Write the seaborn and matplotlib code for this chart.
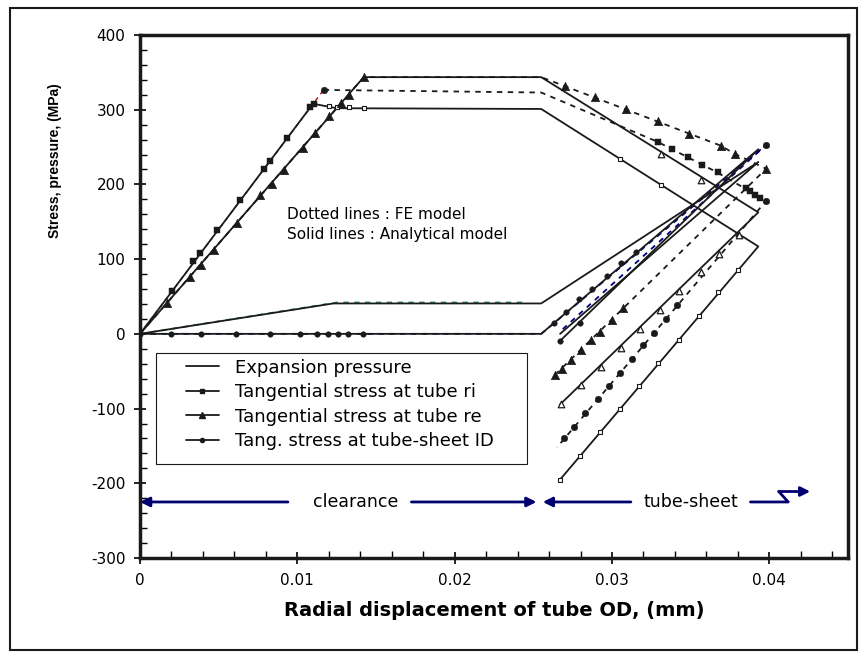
import numpy as np
import matplotlib.pyplot as plt
import seaborn as sns
from matplotlib.patches import Rectangle
from matplotlib.lines import Line2D
from matplotlib.ticker import MultipleLocator, FuncFormatter

sns.set_theme(style='white')
plt.rcParams['font.family'] = ['DejaVu Sans']
plt.rcParams['axes.unicode_minus'] = False
for k in ['text.color', 'axes.labelcolor', 'xtick.color', 'ytick.color']:
    plt.rcParams[k] = 'black'

# ---------------- analytical model (solid lines) ----------------
pres_x = [0, 0.01228, 0.0255, 0.0393, 0.0267]
pres_y = [0, 40.7, 40.7, 230, 0]

ri_x = [0, 0.0110, 0.0125, 0.0255, 0.0393, 0.0267]
ri_y = [0, 308, 302, 301, 117, -195]

re_x = [0, 0.01422, 0.0255, 0.0393, 0.0267]
re_y = [0, 343.6, 343.6, 162.6, -94.5]

id_x = [0, 0.0255, 0.0393, 0.0267]
id_y = [0, 0, 247, -9.4]

# ---------------- FE model (dotted lines) ----------------
fe_pres_x = [0, 0.0125, 0.0244]
fe_pres_y = [0, 42, 42]

fe_ri_load_x = [0, 0.01167]
fe_ri_load_y = [0, 326.5]
fe_ri_x = [0.01167, 0.0255, 0.0329, 0.0367, 0.0398, 0.0265]
fe_ri_y = [326.5, 323, 257, 216, 178, -152]

fe_re_x = [0, 0.01422, 0.0255, 0.0369, 0.0378, 0.0398, 0.02637]
fe_re_y = [0, 343.6, 343.6, 252, 241, 221, -55]

fe_id_x = [0, 0.0255, 0.0398, 0.0268]
fe_id_y = [0, 0, 253, 5]

# ---------------- marker positions ----------------
ri_load_mx = [0.00202, 0.00339, 0.00382, 0.00492, 0.00637, 0.00791, 0.00828, 0.00934, 0.01082, 0.01103]
ri_load_my = [57.8, 98.1, 107.9, 139.3, 179.6, 221.3, 231.1, 261.6, 303.2, 307.7]
ri_open_mx = [0.0120, 0.0125, 0.01326, 0.01422, 0.0305, 0.0331,
              0.02669, 0.02796, 0.02922, 0.03049, 0.03172, 0.03295, 0.03423, 0.0355, 0.03671, 0.03802]
ri_open_my = [305, 304, 303, 302.7, 233.8, 199.8,
              -195, -163, -131.7, -101.2, -69.9, -38.6, -8.1, 24.2, 55.5, 86]

re_load_mx = [0.00174, 0.00318, 0.00386, 0.00471, 0.00616, 0.00764, 0.00838, 0.00917,
              0.01033, 0.01114, 0.01203, 0.01278, 0.01326, 0.01422]
re_load_my = [40.7, 76.6, 92.3, 112.5, 148.2, 185.4, 201.1, 219.9, 248.2, 268.3, 291.6, 309.5, 319.8, 343.6]
re_open_mx = [0.0331, 0.03565, 0.02673, 0.02801, 0.02928, 0.03055, 0.03178, 0.03306,
              0.03427, 0.03565, 0.03681, 0.03809]
re_open_my = [240.5, 206.5, -94.5, -68.9, -43.9, -18.4, 6.3, 31.8, 57.8, 82.4, 107, 132.6]

id_mx = [0, 0.00197, 0.00386, 0.00611, 0.00828, 0.01018, 0.01125, 0.01192, 0.01256, 0.01322, 0.01418,
         0.02631, 0.02705, 0.0279, 0.02875, 0.0297, 0.03055, 0.0315, 0.02669, 0.02796]
id_my = [0, 0, 0, 0, 0, 0, 0, 0, 0, 0, 0,
         15.2, 28.7, 46.6, 60, 78, 94.5, 109, -9.4, 15.2]

fe_ri_mx = [0.01167, 0.02695, 0.02759, 0.02829, 0.02911, 0.02981, 0.03051, 0.0313, 0.032, 0.03268,
            0.03342, 0.03416, 0.0398]
fe_ri_my = [326.5, -139.3, -124, -106.5, -87.7, -69.9, -52.8, -34, -15.2, 1.7, 19.7, 39, 178]
fe_ri_sq_mx = [0.0329, 0.03384, 0.0348, 0.03575, 0.03671, 0.0385, 0.0388, 0.0391, 0.0394]
fe_ri_sq_my = [257, 246.8, 237, 226.6, 216, 195, 191, 186, 182]

fe_re_mx = [0.02637, 0.02684, 0.0274, 0.02801, 0.02864, 0.02924, 0.03002, 0.03072, 0.0398,
            0.0270, 0.0289, 0.0309, 0.0329, 0.0349, 0.0369, 0.0378]
fe_re_my = [-55, -46.6, -35, -22, -8.5, 3.1, 18.8, 34.5, 221,
            332, 317, 301, 285, 268, 252, 241]

fe_id_mx = [0.0398]
fe_id_my = [253]

fig = plt.figure(figsize=(8.67, 6.58), dpi=100)
ax = fig.add_axes([140 / 867, 1 - 558 / 658, 708 / 867, 523 / 658])

dot = (0, (3, 3))
sns.lineplot(x=fe_pres_x, y=fe_pres_y, sort=False, estimator=None, color='#2e8b57', lw=1.3, linestyle=dot, ax=ax)
sns.lineplot(x=fe_ri_load_x, y=fe_ri_load_y, sort=False, estimator=None, color='#c00000', lw=1.0, linestyle=dot, ax=ax)
sns.lineplot(x=fe_ri_x, y=fe_ri_y, sort=False, estimator=None, color='k', lw=1.3, linestyle=dot, ax=ax)
sns.lineplot(x=fe_re_x, y=fe_re_y, sort=False, estimator=None, color='k', lw=1.3, linestyle=dot, ax=ax)
sns.lineplot(x=fe_id_x, y=fe_id_y, sort=False, estimator=None, color='#000080', lw=1.3, linestyle=dot, ax=ax)

for xs, ys in [(pres_x, pres_y), (ri_x, ri_y), (re_x, re_y), (id_x, id_y)]:
    sns.lineplot(x=xs, y=ys, sort=False, estimator=None, color='k', lw=1.3, ax=ax)

sns.scatterplot(x=ri_load_mx, y=ri_load_my, marker='s', s=14, color='k', edgecolor='k', ax=ax, zorder=4)
sns.scatterplot(x=ri_open_mx, y=ri_open_my, marker='s', s=10, color='white', edgecolor='k', linewidth=0.8, ax=ax, zorder=4)
sns.scatterplot(x=re_load_mx, y=re_load_my, marker='^', s=36, color='k', edgecolor='k', ax=ax, zorder=4)
sns.scatterplot(x=re_open_mx, y=re_open_my, marker='^', s=22, color='white', edgecolor='k', linewidth=0.9, ax=ax, zorder=4)
sns.scatterplot(x=id_mx, y=id_my, marker='o', s=16, color='k', edgecolor='k', ax=ax, zorder=4)
sns.scatterplot(x=fe_ri_mx, y=fe_ri_my, marker='o', s=22, color='k', edgecolor='k', ax=ax, zorder=4)
sns.scatterplot(x=fe_ri_sq_mx, y=fe_ri_sq_my, marker='s', s=16, color='k', edgecolor='k', ax=ax, zorder=4)
sns.scatterplot(x=fe_re_mx, y=fe_re_my, marker='^', s=36, color='k', edgecolor='k', ax=ax, zorder=4)
sns.scatterplot(x=fe_id_mx, y=fe_id_my, marker='o', s=22, color='k', edgecolor='k', ax=ax, zorder=4)

ax.set_xlim(0, 0.045)
ax.set_ylim(-300, 400)
ax.xaxis.set_major_locator(MultipleLocator(0.01))
ax.xaxis.set_minor_locator(MultipleLocator(0.002))
ax.yaxis.set_major_locator(MultipleLocator(100))
ax.yaxis.set_minor_locator(MultipleLocator(20))
ax.xaxis.set_major_formatter(FuncFormatter(lambda v, p: f'{v:g}'))
ax.yaxis.set_major_formatter(FuncFormatter(lambda v, p: f'{v:g}'))
ax.tick_params(which='major', direction='inout', length=9, width=1.2, labelsize=11, pad=6,
               bottom=True, left=True)
ax.tick_params(which='minor', direction='in', length=5, width=1.0, bottom=True, left=True)
for s in ax.spines.values():
    s.set_linewidth(2.5)
    s.set_color('k')

ax.set_xlabel('Radial displacement of tube OD, (mm)', fontsize=14, fontweight='bold', labelpad=10)
ax.set_ylabel('Stress, pressure, (MPa)', fontsize=10, fontweight='bold',
              family=['Liberation Sans', 'DejaVu Sans'])
ax.yaxis.set_label_coords(-0.11, 0.759)

ax.text(0.00936, 160, 'Dotted lines : FE model', fontsize=11, va='center')
ax.text(0.00936, 133, 'Solid lines : Analytical model', fontsize=11, va='center')

# arrows for clearance / tube-sheet zones
navy = '#000070'
arr = dict(arrowstyle='-|>', color=navy, lw=2, mutation_scale=14, shrinkA=0, shrinkB=0)
ax.annotate('', xy=(0, -225), xytext=(0.0094, -225), arrowprops=arr)
ax.annotate('', xy=(0.0252, -225), xytext=(0.01725, -225), arrowprops=arr)
ax.annotate('', xy=(0.0256, -225), xytext=(0.0312, -225), arrowprops=arr)
ax.plot([0.0388, 0.0412, 0.0406], [-225, -225, -211], color=navy, lw=2)
ax.annotate('', xy=(0.0426, -211), xytext=(0.0406, -211), arrowprops=arr)
ax.text(0.0137, -225, 'clearance', fontsize=12.5, ha='center', va='center')
ax.text(0.035, -225, 'tube-sheet', fontsize=12.5, ha='center', va='center')

handles = [Line2D([], [], color='k', lw=1.3),
           Line2D([], [], color='k', lw=1.3, marker='s', ms=3),
           Line2D([], [], color='k', lw=1.3, marker='^', ms=4),
           Line2D([], [], color='k', lw=1.3, marker='o', ms=3)]
labels = ['Expansion pressure', 'Tangential stress at tube ri', 'Tangential stress at tube re',
          'Tang. stress at tube-sheet ID']
leg = ax.legend(handles, labels, loc='upper left', bbox_to_anchor=(0.065, 0.381), fontsize=13,
                frameon=False, handlelength=1.8, handletextpad=0.9, borderpad=0,
                labelspacing=0.36, borderaxespad=0)
ax.add_patch(Rectangle((0.0226, 0.1797), 0.524, 0.2123, transform=ax.transAxes,
                       fill=False, lw=0.8, ec='k', zorder=5))

fig.patches.append(Rectangle((0.012, 0.012), 0.976, 0.976, transform=fig.transFigure,
                             fill=False, lw=1.5, ec='k'))

plt.savefig('out.png', dpi=100)
